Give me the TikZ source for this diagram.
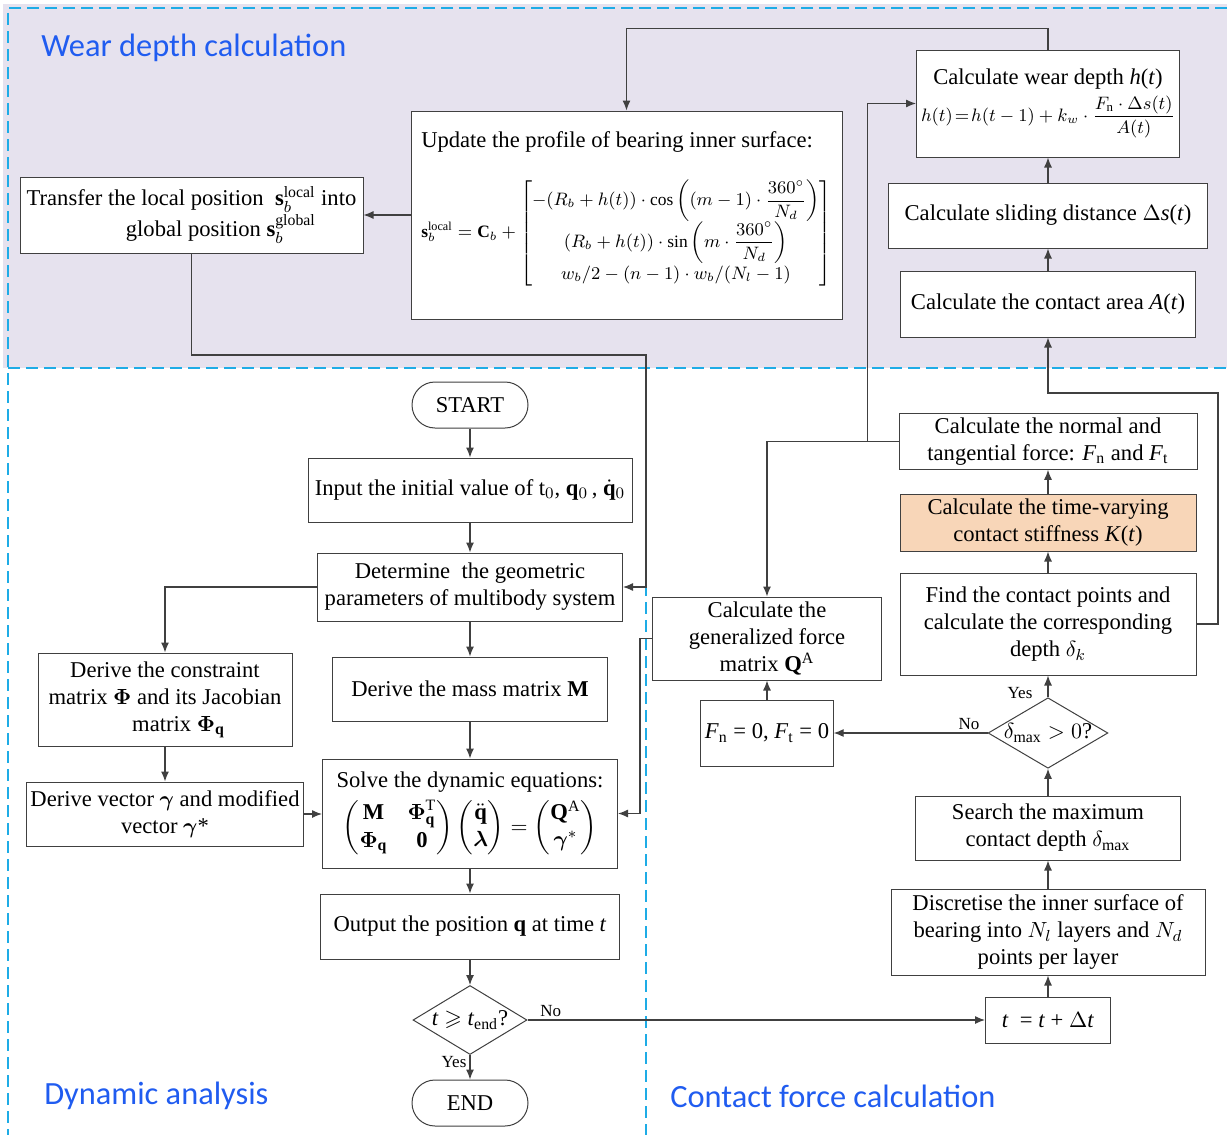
\documentclass[tikz,border=0pt]{standalone}
\usepackage{amsmath,amssymb}
\usepackage{fontspec}
\setmainfont{Liberation Serif}
\newfontfamily\headfont{Carlito}
\usetikzlibrary{arrows.meta,shapes.geometric}

\definecolor{lav}{RGB}{230,226,238}
\definecolor{dashblue}{RGB}{30,172,230}
\definecolor{headblue}{RGB}{32,92,240}
\definecolor{peach}{RGB}{248,214,184}
\definecolor{linegray}{RGB}{64,64,64}

\begin{document}
\begin{tikzpicture}[x=0.5pt,y=-0.5pt,>={Latex[length=5pt,width=4pt]},
  font=\fontsize{11.3}{13.5}\selectfont,line width=0.6pt,
  box/.style={draw=linegray,line width=0.5pt,fill=white,align=center,inner sep=2pt},
  sz/.style 2 args={minimum width=#1,minimum height=#2},
  term/.style={box,rounded corners=11.5pt,sz={58pt}{23pt}},
  dec/.style={diamond,draw=linegray,line width=0.5pt,fill=white,inner sep=0pt,aspect=1.7},
  flow/.style={->,draw=linegray},
  tag/.style={font=\fontsize{8.5}{10}\selectfont,inner sep=1.5pt},
  zone/.style={dashblue,line width=1pt,dash pattern=on 6pt off 3pt},
  head/.style={anchor=west,text=headblue,font=\headfont\fontsize{16.2}{19}\selectfont}]
\useasboundingbox (0,0) rectangle (1227,1135);

% zones
\fill[lav] (3,4) rectangle (1227,368);
\draw[zone] (1227,8) -- (8,8) -- (8,1135);
\draw[zone] (8,368) -- (1227,368);
\draw[zone] (646,368) -- (646,1135);
\node[head] (hwear) at (34,48) {Wear depth calculation};
\node[head] (hdyn) at (37,1096) {Dynamic analysis};
\node[head] (hcon) at (663,1096) {Contact force calculation};

% wear depth calculation
\node[box,sz={171.5pt}{38pt}] (transfer) at (191.5,215)
  {Transfer the local position \ $\mathbf{s}_b^{\mathrm{local}}$ into\\
   \hspace*{2.6em}global position $\mathbf{s}_b^{\mathrm{global}}$};
\node[box,align=left,sz={215.5pt}{104pt}] (update) at (626.5,215)
  {Update the profile of bearing inner surface:\\[13pt]
   {\fontsize{8.7}{10.5}\selectfont\renewcommand{\arraystretch}{1.1}%
   $\mathbf{s}_b^{\mathrm{local}}=\mathbf{C}_b+
   \begin{bmatrix}
    -(R_b+h(t))\cdot\cos\left((m-1)\cdot\dfrac{360^\circ}{N_d}\right)\\
    (R_b+h(t))\cdot\sin\left(m\cdot\dfrac{360^\circ}{N_d}\right)\\
    w_b/2-(n-1)\cdot w_b/(N_l-1)
   \end{bmatrix}$}\\[5pt]\mbox{}};
\node[box,sz={131.5pt}{53.5pt}] (wear) at (1048,103.5)
  {Calculate wear depth \textit{h}(\textit{t})\\[2pt]
   {\fontsize{9.2}{11}\selectfont$h(t)\!=\!h(t-1)+k_w\cdot\dfrac{F_{\mathrm{n}}\cdot\Delta s(t)}{A(t)}$}};
\node[box,sz={159.5pt}{32.5pt}] (slide) at (1048,215.5)
  {Calculate sliding distance $\Delta$\textit{s}(\textit{t})};
\node[box,sz={147.5pt}{33pt}] (area) at (1048,304)
  {Calculate the contact area \textit{A}(\textit{t})};

% dynamic analysis
\node[term] (start) at (470,405) {START};
\node[box,sz={162pt}{32pt}] (input) at (470,490)
  {Input the initial value of t$_0$, $\mathbf{q}_0$\,, $\dot{\mathbf{q}}_0$};
\node[box,sz={152.5pt}{34pt}] (geom) at (470,587)
  {Determine\ \ the geometric\\parameters of multibody system};
\node[box,sz={137.5pt}{32pt}] (mass) at (470,689)
  {Derive the mass matrix $\mathbf{M}$};
\node[box,sz={127pt}{46.5pt}] (constr) at (165,699.5)
  {Derive the constraint\\matrix $\boldsymbol{\Phi}$ and its Jacobian\\
   \hspace*{1.2em}matrix $\boldsymbol{\Phi}_{\mathbf{q}}$};
\node[box,sz={137pt}{32pt}] (gamma) at (165,814)
  {Derive vector $\boldsymbol{\gamma}$ and modified\\vector $\boldsymbol{\gamma}$*};
\node[box,sz={147.5pt}{54.5pt}] (solve) at (470,813.5)
  {Solve the dynamic equations:\\[3pt]
   $\begin{pmatrix}\mathbf{M} & \boldsymbol{\Phi}_{\mathbf{q}}^{\mathrm{T}}\\
     \boldsymbol{\Phi}_{\mathbf{q}} & \mathbf{0}\end{pmatrix}
    \begin{pmatrix}\ddot{\mathbf{q}}\\ \boldsymbol{\lambda}\end{pmatrix}=
    \begin{pmatrix}\mathbf{Q}^{\mathrm{A}}\\ \boldsymbol{\gamma}^{*}\end{pmatrix}$};
\node[box,sz={149.5pt}{32.5pt}] (output) at (470,926.5)
  {Output the position $\mathbf{q}$ at time \textit{t}};
\node[dec,sz={57pt}{34.5pt}] (tend) at (470,1020)
  {\textit{t} $\geqslant$ \textit{t}$_{\mathrm{end}}$?};
\node[term] (end) at (470,1103) {END};

% contact force calculation
\node[box,sz={149pt}{27.5pt}] (force) at (1048,441.5)
  {Calculate the normal and\\tangential force: \textit{F}$_{\mathrm{n}}$ and \textit{F}$_{\mathrm{t}}$};
\node[box,fill=peach,sz={148pt}{28.5pt}] (stiff) at (1048,522.5)
  {Calculate the time-varying\\contact stiffness \textit{K}(\textit{t})};
\node[box,sz={148pt}{51pt}] (find) at (1048,624)
  {Find the contact points and\\calculate the corresponding\\depth $\delta_k$};
\node[dec,sz={58.5pt}{33.5pt}] (dmax) at (1048,733)
  {$\delta_{\mathrm{max}}>0$?};
\node[box,sz={66pt}{33pt}] (zero) at (767,733)
  {\textit{F}$_{\mathrm{n}}$ = 0, \textit{F}$_{\mathrm{t}}$ = 0};
\node[box,sz={114.5pt}{41.5pt}] (genf) at (767,638.5)
  {Calculate the\\generalized force\\matrix $\mathbf{Q}^{\mathrm{A}}$};
\node[box,sz={132.5pt}{32pt}] (search) at (1048,828)
  {Search the maximum\\contact depth $\delta_{\mathrm{max}}$};
\node[box,sz={157pt}{43pt}] (disc) at (1048,932)
  {Discretise the inner surface of\\bearing into $N_l$ layers and $N_d$\\points per layer};
\node[box,sz={62.5pt}{23pt}] (tstep) at (1048,1020)
  {\textit{t}\ \ = \textit{t} + $\Delta$\textit{t}};

% connectors, wear depth part
\draw[flow] (wear.north) -- ++(0,-21) -| (update.north);
\draw[flow] (update.west) -- (transfer.east);
\coordinate (wrap) at (646,355);
\draw[flow] (transfer.south) |- (wrap) |- (geom.east);
\draw[flow] (slide) -- (wear);
\draw[flow] (area) -- (slide);

% connectors, dynamic part
\draw[flow] (start) -- (input);
\draw[flow] (input) -- (geom);
\draw[flow] (geom) -- (mass);
\draw[flow] (geom.west) -| (constr.north);
\draw[flow] (constr) -- (gamma);
\draw[flow] (mass) -- (solve);
\draw[flow] (gamma.east) -- (gamma.east -| solve.west);
\draw[flow] (solve) -- (output);
\draw[flow] (output) -- (tend);
\draw[flow] (tend) -- node[tag,left,pos=0.3]{Yes} (end);
\draw[flow] (tend.east) -- node[tag,above right,pos=0.02]{No} (tstep.west);

% connectors, contact part
\draw[flow] (tstep) -- (disc);
\draw[flow] (disc) -- (search);
\draw[flow] (search) -- (dmax);
\draw[flow] (dmax) -- node[tag,left,pos=0.2,xshift=-6pt]{Yes} (find);
\draw[flow] (dmax.west) -- node[tag,above,pos=0.12]{No} (zero.east);
\draw[flow] (zero) -- (genf);
\draw[flow] (find) -- (stiff);
\draw[flow] (stiff) -- (force);
\draw[flow] (force.west) -| (genf.north);
\path (force.west) -- ++(-31,0) coordinate (split);
\draw[flow] (split) |- (wear.west);
\coordinate (loop) at (1218,393);
\draw[flow] (find.east) -| (loop) -| (area.south);
\draw[flow] (genf.west) -- ++(-12,0) |- (solve.east);
\end{tikzpicture}
\end{document}
